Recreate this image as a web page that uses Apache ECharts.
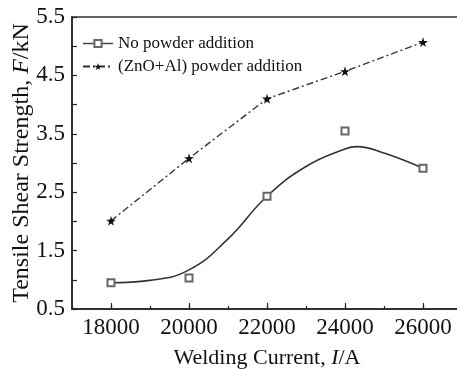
<!DOCTYPE html>
<html>
<head>
<meta charset="utf-8">
<script src="https://cdn.jsdelivr.net/npm/echarts@6/dist/echarts.min.js"></script>
<style>
html,body{margin:0;padding:0;background:#fff;}
#c{width:457px;height:369px;}
</style>
</head>
<body>
<div id="c"></div>
<script>
// Data
const currents = [18000, 20000, 22000, 24000, 26000];
const noPowder = [0.95, 1.03, 2.43, 3.55, 2.91];
const znoAl = [2.01, 3.08, 4.10, 4.57, 5.07];
// fitted curve for "No powder addition"
const fitX = [18000, 19000, 20000, 21000, 22000, 23000, 24000, 24300, 25000, 26000];
const fitY = [0.95, 0.99, 1.17, 1.70, 2.43, 2.94, 3.24, 3.28, 3.17, 2.91];
const xTickLabels = [18000, 20000, 22000, 24000, 26000];
const yTickLabels = [0.5, 1.5, 2.5, 3.5, 4.5, 5.5];
const seriesNames = ['No powder addition', '(ZnO+Al) powder addition'];

const FONT = '"Liberation Serif", "Times New Roman", serif';
const star = 'path://M50,0 L61,35 L98,35 L68,57 L79,91 L50,70 L21,91 L32,57 L2,35 L39,35 Z';

const chart = echarts.init(document.getElementById('c'), null, {renderer: 'canvas'});
chart.setOption({
  animation: false,
  backgroundColor: '#fff',
  grid: {left: 72, top: 17, right: -5, bottom: 60, outerBoundsMode: 'none', containLabel: false,
         show: true, borderColor: '#333', borderWidth: 1.5, backgroundColor: 'transparent'},
  legend: {
    orient: 'vertical', left: 77, top: 30,
    itemWidth: 30, itemHeight: 9, itemGap: 6,
    textStyle: {fontFamily: FONT, fontSize: 17, color: '#111'},
    data: [
      {name: seriesNames[0], lineStyle: {width: 1.5, color: '#444', opacity: 1, type: 'solid'}},
      {name: seriesNames[1]}
    ]
  },
  xAxis: [{
    type: 'value', min: 17000, max: 27000, interval: 1000,
    splitLine: {show: false},
    axisLine: {show: true, lineStyle: {color: '#222', width: 1.5}},
    axisTick: {show: true, inside: true, length: 3, lineStyle: {color: '#222', width: 1.2}},
    axisLabel: {
      margin: 7, fontFamily: FONT, fontSize: 23, color: '#111',
      formatter: v => xTickLabels.indexOf(v) >= 0 ? String(v) : ''
    },
    name: '{n|Welding Current, }{i|I}{n|/A}',
    nameLocation: 'middle', nameGap: 38, nameMoveOverlap: false,
    nameTextStyle: {
      rich: {
        n: {fontFamily: FONT, fontSize: 22, color: '#111'},
        i: {fontFamily: FONT, fontSize: 22, color: '#111', fontStyle: 'italic'}
      }
    }
  }, {
    type: 'value', min: 17000, max: 27000, interval: 1000, position: 'bottom',
    splitLine: {show: false},
    axisLine: {show: false},
    axisTick: {show: true, inside: true, length: 6, customValues: xTickLabels, lineStyle: {color: '#222', width: 1.2}},
    axisLabel: {show: false}
  }],
  yAxis: {
    type: 'value', min: 0.5, max: 5.5, interval: 0.5,
    splitLine: {show: false},
    axisLine: {show: true, lineStyle: {color: '#222', width: 1.5}},
    axisTick: {show: true, inside: true, length: 5, lineStyle: {color: '#222', width: 1.2}},
    axisLabel: {
      margin: 7, fontFamily: FONT, fontSize: 23, color: '#111',
      formatter: v => yTickLabels.some(t => Math.abs(t - v) < 1e-6) ? v.toFixed(1) : ''
    },
    name: '{n|Tensile Shear Strength, }{i|F}{n|/kN}',
    nameLocation: 'middle', nameGap: 38, nameMoveOverlap: false,
    nameTextStyle: {
      rich: {
        n: {fontFamily: FONT, fontSize: 24, color: '#111'},
        i: {fontFamily: FONT, fontSize: 24, color: '#111', fontStyle: 'italic'}
      }
    }
  },
  series: [
    {
      name: 'fit', type: 'line', smooth: 0.45, showSymbol: false, silent: true,
      data: fitX.map((x, i) => [x, fitY[i]]),
      lineStyle: {color: '#333', width: 1.6},
      z: 2
    },
    {
      name: seriesNames[0], type: 'line',
      data: currents.map((x, i) => [x, noPowder[i]]),
      symbol: 'emptyRect', symbolSize: 7,
      itemStyle: {color: '#666', borderColor: '#666', borderWidth: 1.2},
      lineStyle: {width: 0, opacity: 0},
      z: 3
    },
    {
      name: seriesNames[1], type: 'line',
      data: currents.map((x, i) => [x, znoAl[i]]),
      symbol: star, symbolSize: 10,
      itemStyle: {color: '#111'},
      lineStyle: {color: '#333', width: 1.4, type: [7, 3, 2, 3]},
      z: 3
    }
  ]
});
</script>
</body>
</html>
